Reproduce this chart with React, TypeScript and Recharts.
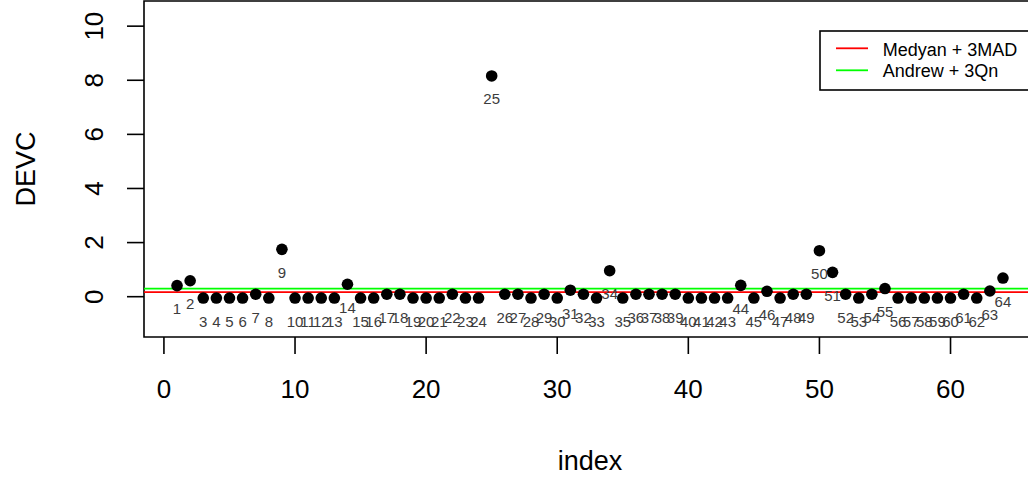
import { ReferenceArea, ReferenceLine, Scatter, ScatterChart, XAxis, YAxis } from "recharts";

const indexes = [
  1, 2, 3, 4, 5, 6, 7, 8, 9, 10, 11, 12, 13, 14, 15, 16, 17, 18, 19, 20, 21, 22, 23, 24, 25, 26, 27, 28, 29, 30, 31, 32,
  33, 34, 35, 36, 37, 38, 39, 40, 41, 42, 43, 44, 45, 46, 47, 48, 49, 50, 51, 52, 53, 54, 55, 56, 57, 58, 59, 60, 61,
  62, 63, 64,
];
const devc = [
  0.41, 0.59, -0.05, -0.05, -0.05, -0.05, 0.09, -0.05, 1.75, -0.05, -0.05, -0.05, -0.05, 0.46, -0.05, -0.05, 0.09,
  0.09, -0.05, -0.05, -0.05, 0.09, -0.05, -0.05, 8.16, 0.09, 0.09, -0.05, 0.09, -0.05, 0.24, 0.09, -0.05, 0.96, -0.05,
  0.09, 0.09, 0.09, 0.09, -0.05, -0.05, -0.05, -0.05, 0.42, -0.05, 0.2, -0.05, 0.09, 0.09, 1.7, 0.9, 0.09, -0.05, 0.09,
  0.3, -0.05, -0.05, -0.05, -0.05, -0.05, 0.09, -0.05, 0.21, 0.69,
];

const xTicks = [0, 10, 20, 30, 40, 50, 60];
const yTicks = [0, 2, 4, 6, 8, 10];
const xDomain = [-1.52, 66.52];
const yDomain = [-1.49, 10.93];

// cutoff lines
const cutoffNames = ["Medyan + 3MAD", "Andrew + 3Qn"];
const cutoffValues = [0.17, 0.3];
const cutoffColors = ["#ff0000", "#00ff00"];

const FONT = "'Liberation Sans', Arial, sans-serif";

const data = indexes.map((index, i) => ({ index, devc: devc[i] }));

const XTick = (props: any) => {
  const { x, y, payload } = props;
  return (
    <text x={x} y={y + 44} textAnchor="middle" fontSize={26} fontFamily={FONT} fill="#000">
      {payload.value}
    </text>
  );
};

const YTick = (props: any) => {
  const { x, y, payload } = props;
  return (
    <text
      transform={`translate(${x - 24},${y}) rotate(-90)`}
      textAnchor="middle"
      fontSize={26}
      fontFamily={FONT}
      fill="#000"
    >
      {payload.value}
    </text>
  );
};

const Dot = (props: any) => <circle cx={props.cx} cy={props.cy} r={5.8} fill="#000" />;

const PointLabel = (props: any) => (
  <text x={props.cx} y={props.cy + 28.5} textAnchor="middle" fontSize={15} fontFamily={FONT} fill="#3c3c3c">
    {props.payload.index}
  </text>
);

// legend box, partly cut off by the right edge like in the original
const LegendBox = () => (
  <svg width={240} height={61} style={{ position: "absolute", left: 819, top: 30, display: "block" }}>
    <rect x={1} y={1} width={236} height={59} fill="#fff" stroke="#000" strokeWidth={1.6} />
    {cutoffNames.map((name, i) => (
      <g key={name}>
        <line x1={17} x2={49} y1={18.3 + i * 22} y2={18.3 + i * 22} stroke={cutoffColors[i]} strokeWidth={1.8} />
        <text x={63.7} y={26 + i * 20.7} fontSize={18} fontFamily={FONT} fill="#000">
          {name}
        </text>
      </g>
    ))}
  </svg>
);

export default function App() {
  return (
    <div style={{ position: "absolute", left: 0, top: 0, width: 1028, height: 479, overflow: "hidden", background: "#fff" }}>
      <ScatterChart width={1060} height={479} margin={{ top: 1, right: 24, bottom: 0, left: 0 }}>
        <XAxis
          type="number"
          dataKey="index"
          domain={xDomain}
          ticks={xTicks}
          allowDataOverflow
          height={142}
          axisLine={false}
          tickSize={17}
          tickMargin={0}
          tickLine={{ stroke: "#000", strokeWidth: 1.6 }}
          tick={<XTick />}
          label={{
            value: "index",
            content: (p: any) => (
              <text
                x={p.viewBox.x + p.viewBox.width / 2}
                y={p.viewBox.y + 133}
                textAnchor="middle"
                fontSize={27}
                fontFamily={FONT}
                fill="#000"
              >
                index
              </text>
            ),
          }}
        />
        <YAxis
          type="number"
          dataKey="devc"
          domain={yDomain}
          ticks={yTicks}
          allowDataOverflow
          width={144}
          axisLine={false}
          tickSize={17}
          tickMargin={0}
          tickLine={{ stroke: "#000", strokeWidth: 1.6 }}
          tick={<YTick />}
          label={{
            value: "DEVC",
            content: (p: any) => (
              <text
                transform={`translate(${p.viewBox.x + 35},${p.viewBox.y + p.viewBox.height / 2}) rotate(-90)`}
                textAnchor="middle"
                fontSize={27}
                fontFamily={FONT}
                fill="#000"
              >
                DEVC
              </text>
            ),
          }}
        />
        <ReferenceArea
          x1={xDomain[0]}
          x2={xDomain[1]}
          y1={yDomain[0]}
          y2={yDomain[1]}
          fill="none"
          fillOpacity={0}
          stroke="#000"
          strokeWidth={1.6}
          ifOverflow="visible"
        />
        <Scatter data={data} shape={<Dot />} isAnimationActive={false} />
        {cutoffValues.map((v, i) => (
          <ReferenceLine key={cutoffNames[i]} y={v} stroke={cutoffColors[i]} strokeWidth={1.8} />
        ))}
        <Scatter data={data} shape={<PointLabel />} isAnimationActive={false} />
      </ScatterChart>
      <LegendBox />
    </div>
  );
}
